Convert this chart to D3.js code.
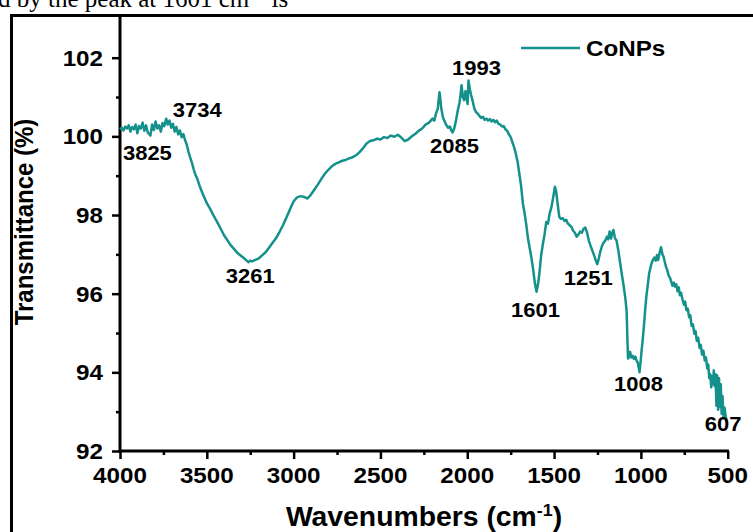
<!DOCTYPE html>
<html>
<head>
<meta charset="utf-8">
<script src="https://cdn.jsdelivr.net/npm/d3@7"></script>
<style>
  body { margin: 0; background: #fff; }
  svg { display: block; }
</style>
</head>
<body>
<script>
// FTIR spectrum of cobalt nanoparticles (CoNPs)
const waveNumbers = [
  4000, 3990, 3980, 3970, 3960, 3950, 3940, 3930, 3920, 3910, 3900, 3890, 3880, 3870, 3860, 3850, 3840, 3825,
  3815, 3805, 3795, 3785, 3775, 3765, 3755, 3745, 3734, 3725, 3715, 3705, 3695, 3685, 3675, 3665, 3655, 3645,
  3635, 3625, 3615, 3605, 3595, 3585, 3575, 3565, 3555, 3540, 3520, 3500, 3480, 3460, 3440, 3420, 3400, 3380,
  3360, 3340, 3320, 3300, 3280, 3261, 3250, 3240, 3220, 3200, 3180, 3160, 3140, 3120, 3100, 3080, 3060, 3040,
  3020, 3000, 2980, 2960, 2940, 2920, 2900, 2880, 2860, 2840, 2820, 2800, 2780, 2760, 2740, 2720, 2700, 2680,
  2660, 2640, 2620, 2600, 2580, 2560, 2540, 2520, 2500, 2480, 2460, 2440, 2420, 2400, 2380, 2360, 2340, 2320,
  2300, 2280, 2260, 2240, 2220, 2200, 2190, 2180, 2170, 2160, 2155, 2150, 2140, 2130, 2120, 2110, 2100, 2092,
  2085, 2075, 2065, 2055, 2045, 2040, 2033, 2025, 2018, 2010, 2003, 1998, 1993, 1985, 1978, 1970, 1960, 1950,
  1940, 1930, 1920, 1910, 1900, 1890, 1880, 1870, 1860, 1850, 1840, 1830, 1820, 1810, 1800, 1790, 1780, 1770,
  1760, 1750, 1740, 1730, 1720, 1710, 1700, 1690, 1680, 1670, 1660, 1650, 1640, 1630, 1620, 1610, 1601, 1592,
  1585, 1575, 1565, 1555, 1545, 1535, 1525, 1515, 1505, 1495, 1488, 1480, 1470, 1460, 1450, 1440, 1430, 1420,
  1410, 1400, 1390, 1380, 1370, 1360, 1350, 1340, 1330, 1320, 1310, 1300, 1290, 1280, 1270, 1260, 1251, 1242,
  1235, 1225, 1215, 1205, 1195, 1188, 1180, 1172, 1165, 1158, 1150, 1140, 1130, 1120, 1110, 1100, 1090, 1082,
  1078, 1074, 1068, 1062, 1055, 1048, 1040, 1032, 1025, 1018, 1012, 1008, 1002, 996, 990, 983, 976, 968,
  961, 953, 945, 938, 930, 922, 914, 907, 900, 892, 884, 876, 870, 862, 855, 848, 840, 832,
  825, 818, 810, 803, 796, 789, 782, 775, 768, 760, 752, 745, 738, 730, 722, 715, 708, 700,
  692, 685, 678, 670, 662, 655, 648, 640, 632, 625, 618, 612, 606, 600, 595, 590, 585, 580,
  575, 570, 565, 560, 555, 550, 545, 540, 535, 530, 524, 518, 512, 506
];
const transmittance = [
  100.18, 100.22, 100.15, 100.25, 100.20, 100.28, 100.12, 100.24, 100.18, 100.30, 100.08, 100.26, 100.20, 100.35, 100.14, 100.28, 100.10, 100.02,
  100.30, 100.16, 100.38, 100.20, 100.28, 100.12, 100.34, 100.26, 100.45, 100.30, 100.40, 100.22, 100.32, 100.12, 100.24, 100.05, 100.15, 99.98,
  100.06, 99.90, 99.78, 99.60, 99.45, 99.32, 99.15, 99.02, 98.92, 98.72, 98.50, 98.30, 98.15, 97.98, 97.82, 97.65, 97.48, 97.35,
  97.22, 97.12, 97.02, 96.95, 96.88, 96.80, 96.84, 96.82, 96.86, 96.90, 96.98, 97.06, 97.18, 97.30, 97.42, 97.58, 97.75, 97.95,
  98.15, 98.35, 98.45, 98.48, 98.46, 98.42, 98.52, 98.65, 98.78, 98.92, 99.05, 99.15, 99.24, 99.30, 99.34, 99.38, 99.40, 99.44,
  99.47, 99.52, 99.60, 99.70, 99.82, 99.88, 99.90, 99.94, 99.92, 99.98, 99.96, 100.02, 99.99, 100.04, 99.97, 99.88, 99.92, 100.00,
  100.06, 100.14, 100.20, 100.30, 100.35, 100.45, 100.40, 100.58, 100.70, 101.12, 100.95, 100.72, 100.48, 100.38, 100.28, 100.22, 100.25, 100.15,
  100.10, 100.20, 100.40, 100.65, 100.85, 101.00, 101.30, 101.00, 100.92, 101.15, 100.95, 100.82, 101.42, 101.20, 101.05, 100.92, 100.72, 100.62,
  100.58, 100.52, 100.47, 100.50, 100.42, 100.45, 100.40, 100.44, 100.38, 100.42, 100.36, 100.40, 100.32, 100.30, 100.25, 100.26, 100.18, 100.14,
  100.05, 99.98, 99.85, 99.72, 99.55, 99.35, 99.05, 98.75, 98.30, 98.05, 97.75, 97.40, 97.15, 96.90, 96.60, 96.25, 96.05, 96.25,
  96.50, 96.95, 97.25, 97.50, 97.82, 97.78, 98.05, 98.20, 98.45, 98.72, 98.60, 98.30, 97.95, 97.90, 97.92, 97.85, 97.88, 97.78,
  97.74, 97.70, 97.60, 97.55, 97.45, 97.50, 97.58, 97.55, 97.65, 97.68, 97.55, 97.35, 97.22, 97.10, 96.98, 96.85, 96.75, 96.90,
  97.05, 97.20, 97.30, 97.35, 97.45, 97.38, 97.58, 97.40, 97.55, 97.62, 97.42, 97.35, 97.10, 96.80, 96.50, 96.22, 95.90, 95.55,
  94.90, 94.35, 94.40, 94.52, 94.38, 94.42, 94.34, 94.40, 94.30, 94.25, 94.10, 94.00, 94.25, 94.55, 94.80, 95.15, 95.55, 95.95,
  96.20, 96.50, 96.66, 96.78, 96.86, 96.92, 96.84, 96.98, 96.86, 97.04, 97.18, 97.00, 96.95, 96.80, 96.68, 96.60, 96.46, 96.40,
  96.30, 96.20, 96.28, 96.18, 96.24, 96.06, 96.16, 95.96, 96.02, 95.85, 95.72, 95.80, 95.58, 95.62, 95.40, 95.45, 95.18, 95.22,
  94.98, 95.05, 94.80, 94.88, 94.62, 94.70, 94.45, 94.55, 94.30, 94.38, 94.10, 94.20, 93.85, 93.95, 93.62, 93.90, 93.70, 94.05,
  93.65, 93.95, 93.15, 93.92, 93.05, 93.85, 93.12, 93.70, 92.95, 93.40, 92.85, 93.10, 92.90, 92.75
];
const seriesName = "CoNPs";
const xTickValues = [4000, 3500, 3000, 2500, 2000, 1500, 1000, 500];
const xMinorValues = [3750, 3250, 2750, 2250, 1750, 1250, 750];
const yTickValues = [92, 94, 96, 98, 100, 102];
const yMinorValues = [93, 95, 97, 99, 101];
const peakLabels = ["3825", "3734", "3261", "2085", "1993", "1601", "1251", "1008", "607"];

const W = 753, H = 532;
const lineColor = "#15918c";
const font = "'Liberation Sans', Arial, Helvetica, sans-serif";
const stretch = 1.1;

const svg = d3.select("body").append("svg")
  .attr("width", W).attr("height", H)
  .attr("viewBox", `0 0 ${W} ${H}`);

// Running text of the page above the figure
svg.append("text")
  .attr("x", -2).attr("y", 6.5)
  .attr("font-family", "'Liberation Serif', 'Times New Roman', serif")
  .attr("font-size", 25)
  .attr("fill", "#000")
  .html('d by the peak at 1601 cm<tspan dy="-9" font-size="15">−1</tspan><tspan dy="9"> is</tspan>');

// Figure frame
svg.append("rect")
  .attr("x", 11.5).attr("y", 15.5)
  .attr("width", 900).attr("height", 700)
  .attr("fill", "none").attr("stroke", "#000").attr("stroke-width", 3);

const x = d3.scaleLinear().domain([4000, 500]).range([120, 727.7]);
const y = d3.scaleLinear().domain([92, 102]).range([451, 57.7]);
const yTop = 16;

function label(g, px, py, str, size, anchor) {
  return g.append("text")
    .attr("transform", `translate(${px},${py}) scale(${stretch},1)`)
    .attr("text-anchor", anchor || "middle")
    .attr("font-family", font)
    .attr("font-weight", "bold")
    .attr("font-size", size)
    .attr("fill", "#000")
    .text(str);
}

// Axes
const axes = svg.append("g");
axes.append("g").attr("transform", `translate(0,${y(92)})`)
  .call(d3.axisBottom(x).tickValues(xTickValues).tickSize(8).tickSizeOuter(0).tickFormat(""));
axes.append("g").attr("transform", `translate(0,${y(92)})`)
  .call(d3.axisBottom(x).tickValues(xMinorValues).tickSize(4).tickSizeOuter(0).tickFormat(""));
axes.append("g").attr("transform", `translate(${x(4000)},0)`)
  .call(d3.axisLeft(y).tickValues(yTickValues).tickSize(8).tickSizeOuter(0).tickFormat(""));
axes.append("g").attr("transform", `translate(${x(4000)},0)`)
  .call(d3.axisLeft(y).tickValues(yMinorValues).tickSize(4).tickSizeOuter(0).tickFormat(""));
axes.selectAll(".domain").remove();
axes.selectAll(".tick line").attr("stroke", "#000").attr("stroke-width", 2.5);

axes.append("line")
  .attr("x1", x(4000) - 1.25).attr("x2", x(500) + 1.25)
  .attr("y1", y(92)).attr("y2", y(92))
  .attr("stroke", "#000").attr("stroke-width", 3);
axes.append("line")
  .attr("x1", x(4000)).attr("x2", x(4000))
  .attr("y1", y(92) + 1.5).attr("y2", yTop)
  .attr("stroke", "#000").attr("stroke-width", 3);

xTickValues.forEach(v => label(axes, x(v), y(92) + 32, String(v), 22));
yTickValues.forEach(v => label(axes, x(4000) - 17, y(v) + 8, String(v), 22, "end"));

// Axis titles
svg.append("text")
  .attr("transform", "translate(424,526) scale(1.05,1)")
  .attr("text-anchor", "middle")
  .attr("font-family", font).attr("font-weight", "bold").attr("font-size", 27)
  .html('Wavenumbers (cm<tspan dy="-10" font-size="17">-1</tspan><tspan dy="10">)</tspan>');
svg.append("text")
  .attr("transform", "translate(33,222) rotate(-90) scale(1,1.05)")
  .attr("text-anchor", "middle")
  .attr("font-family", font).attr("font-weight", "bold").attr("font-size", 24)
  .text("Transmittance (%)");

// Spectrum
const points = waveNumbers.map((w, i) => [w, transmittance[i]]);
svg.append("path")
  .datum(points)
  .attr("fill", "none")
  .attr("stroke", lineColor)
  .attr("stroke-width", 2.5)
  .attr("stroke-linejoin", "round")
  .attr("d", d3.line().x(d => x(d[0])).y(d => y(d[1])));

// Peak annotations, placed relative to the spectrum point they name
const labelOffset = {
  "3825": [-3, 24], "3734": [31, -2], "3261": [2, 21], "2085": [2, 21], "1993": [8, -6],
  "1601": [-1, 25], "1251": [-9, 21], "1008": [-1, 19], "607": [14, 53]
};
const valueAt = w => {
  let best = 0;
  waveNumbers.forEach((v, i) => { if (Math.abs(v - w) < Math.abs(waveNumbers[best] - w)) best = i; });
  return transmittance[best];
};
peakLabels.forEach(p => {
  const w = +p;
  const [dx, dy] = labelOffset[p];
  label(svg, x(w) + dx, y(valueAt(w)) + dy, p, 20);
});

// Legend
svg.append("line")
  .attr("x1", 521).attr("x2", 580).attr("y1", 48).attr("y2", 48)
  .attr("stroke", lineColor).attr("stroke-width", 2.5);
label(svg, 586, 56, seriesName, 22, "start");
</script>
</body>
</html>
